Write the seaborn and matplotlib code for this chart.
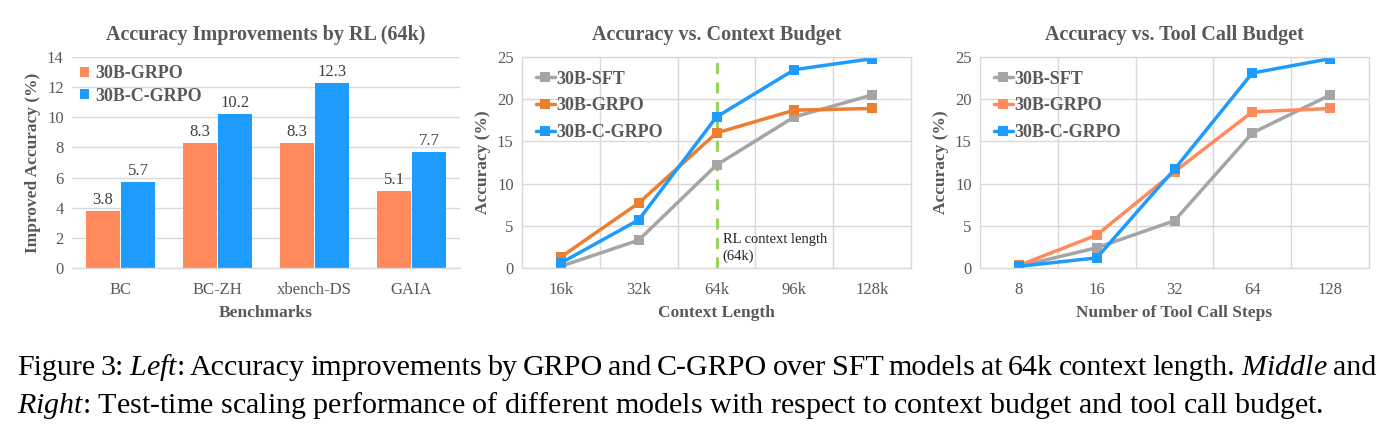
import seaborn as sns
import matplotlib.pyplot as plt
import pandas as pd

# left panel: accuracy improvements by RL at 64k
benchmarks = ["BC", "BC-ZH", "xbench-DS", "GAIA"]
grpo_gain = [3.8, 8.3, 8.3, 5.1]
cgrpo_gain = [5.7, 10.2, 12.3, 7.7]

# middle panel: accuracy vs context budget
context_ticks = ["16k", "32k", "64k", "96k", "128k"]
ctx_sft = [0.2, 3.3, 12.2, 17.9, 20.5]
ctx_grpo = [1.3, 7.7, 16.0, 18.7, 18.9]
ctx_cgrpo = [0.6, 5.7, 17.9, 23.5, 24.8]

# right panel: accuracy vs tool call budget
tool_ticks = ["8", "16", "32", "64", "128"]
tool_sft = [0.2, 2.4, 5.6, 16.0, 20.5]
tool_grpo = [0.3, 3.9, 11.4, 18.5, 18.9]
tool_cgrpo = [0.2, 1.2, 11.7, 23.1, 24.8]

caption_1 = (r'Figure 3: $\mathit{Left}$: Accuracy improvements by GRPO and C-GRPO over SFT '
             r'models at 64k context length. $\mathit{Middle}$ and')
caption_2 = (r'$\mathit{Right}$: Test-time scaling performance of different models with '
             r'respect to context budget and tool call budget.')

sns.set_theme(style="white")
plt.rcParams['font.family'] = ['Liberation Serif', 'DejaVu Serif']
plt.rcParams['mathtext.fontset'] = 'custom'
plt.rcParams['mathtext.rm'] = 'Liberation Serif'
plt.rcParams['mathtext.it'] = 'Liberation Serif:italic'

txt = '#595959'
grid_c = '#D9D9D9'
fs = 12

W, H = 1393, 434
fig = plt.figure(figsize=(W / 100, H / 100), dpi=100)


def px_axes(x0, x1, y0, y1):
    return fig.add_axes([x0 / W, 1 - y1 / H, (x1 - x0) / W, (y1 - y0) / H])


def style_axes(ax, frame):
    ax.tick_params(length=0, labelsize=fs, colors=txt, pad=10)
    ax.tick_params(axis='y', pad=6)
    ax.grid(axis='y', color=grid_c, linewidth=1)
    ax.set_axisbelow(True)
    for name, sp in ax.spines.items():
        sp.set_color(grid_c)
        sp.set_linewidth(1)
        if not frame and name != 'bottom':
            sp.set_visible(False)


# ---- left: bar chart
ax1 = px_axes(72, 460, 57, 268)
df_bar = pd.DataFrame({
    'Benchmark': benchmarks * 2,
    'Gain': grpo_gain + cgrpo_gain,
    'Model': ['30B-GRPO'] * len(benchmarks) + ['30B-C-GRPO'] * len(benchmarks),
})
sns.barplot(data=df_bar, x='Benchmark', y='Gain', hue='Model', ax=ax1,
            palette=['#FF8A5B', '#1E9BFF'], width=0.72, gap=0.04,
            saturation=1, edgecolor='none')
for cont in ax1.containers:
    ax1.bar_label(cont, fmt='%.1f', padding=2, fontsize=fs, color='#404040')
ax1.set_ylim(0, 14)
ax1.set_yticks(range(0, 15, 2))
ax1.set_xlim(-0.5, 3.5)
style_axes(ax1, frame=False)
ax1.set_title('Accuracy Improvements by RL (64k)', fontsize=14.5, fontweight='bold',
              color=txt, pad=12)
ax1.set_xlabel('Benchmarks', fontsize=12.5, fontweight='bold', color=txt, labelpad=5)
ax1.set_ylabel('Improved Accuracy (%)', fontsize=12.5, fontweight='bold', color=txt)
leg = ax1.legend(loc='upper left', frameon=False, handlelength=0.5, handleheight=0.5,
                 handletextpad=0.35, labelspacing=0.3, borderpad=0.2, borderaxespad=0.25,
                 prop={'weight': 'bold', 'size': 13})
for t in leg.get_texts():
    t.set_color(txt)


# ---- line panels
def line_panel(ax, ticks, sft, grpo, cgrpo, grpo_color, title, xlabel):
    df = pd.DataFrame({
        'x': ticks * 3,
        'acc': sft + grpo + cgrpo,
        'Model': ['30B-SFT'] * 5 + ['30B-GRPO'] * 5 + ['30B-C-GRPO'] * 5,
    })
    sns.lineplot(data=df, x='x', y='acc', hue='Model', ax=ax,
                 palette=['#A5A5A5', grpo_color, '#1E9BFF'],
                 marker='s', markersize=7, markeredgewidth=0, linewidth=2.5)
    ax.set_xlim(-0.5, 4.5)
    ax.set_ylim(0, 25)
    ax.set_yticks(range(0, 26, 5))
    ax.set_xticks([i + 0.5 for i in range(4)], minor=True)
    ax.grid(axis='x', which='minor', color=grid_c, linewidth=1)
    style_axes(ax, frame=True)
    ax.tick_params(which='minor', length=0)
    ax.set_title(title, fontsize=14.5, fontweight='bold', color=txt, pad=12)
    ax.set_xlabel(xlabel, fontsize=12.5, fontweight='bold', color=txt, labelpad=5)
    ax.set_ylabel('Accuracy (%)', fontsize=12.5, fontweight='bold', color=txt)
    lg = ax.legend(loc='upper left', frameon=False, handlelength=1.1,
                   handletextpad=0.05, labelspacing=0.55, borderpad=0.2,
                   borderaxespad=0.55, prop={'weight': 'bold', 'size': 13})
    for t in lg.get_texts():
        t.set_color(txt)


ax2 = px_axes(522, 911, 57, 268)
line_panel(ax2, context_ticks, ctx_sft, ctx_grpo, ctx_cgrpo, '#ED7D31',
           'Accuracy vs. Context Budget', 'Context Length')
ax2.axvline(2, color='#92D050', linestyle='--', linewidth=2, dashes=(4, 3), zorder=1)
ax2.text(2.08, 0.6, 'RL context length\n(64k)', fontsize=10.5, color='#222222',
         ha='left', va='bottom', linespacing=1.3)

ax3 = px_axes(980, 1369, 57, 268)
line_panel(ax3, tool_ticks, tool_sft, tool_grpo, tool_cgrpo, '#FF8A5B',
           'Accuracy vs. Tool Call Budget', 'Number of Tool Call Steps')

# caption: first line justified between the margins, second line ragged
cap_fs = 21.6
renderer = fig.canvas.get_renderer()
words = caption_1.split(' ')
parts = [fig.text(0, 1 - 375 / H, w, fontsize=cap_fs, color='black',
                  ha='left', va='baseline') for w in words]
widths = [p.get_window_extent(renderer).width for p in parts]
x_left, x_right = 17, 1376
space = (x_right - x_left - sum(widths)) / (len(words) - 1)
x = x_left
for p, w in zip(parts, widths):
    p.set_x(x / W)
    x += w + space
fig.text(x_left / W, 1 - 413 / H, caption_2, fontsize=cap_fs, color='black',
         ha='left', va='baseline')

fig.savefig('out.png', dpi=100, facecolor='white')
